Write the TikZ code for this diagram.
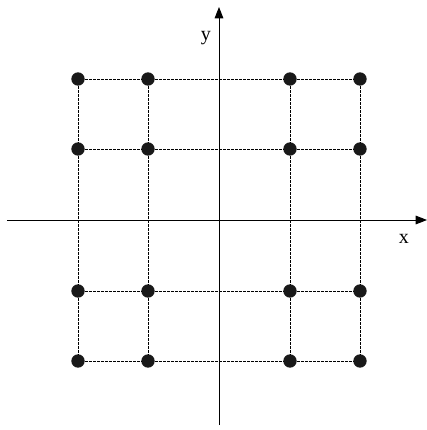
\documentclass[tikz,border=0pt]{standalone}
\usepackage{fontspec}
\setmainfont{Liberation Serif}
\usetikzlibrary{arrows.meta}

\begin{document}
\begin{tikzpicture}[x=0.75pt, y=0.75pt, >={Triangle[length=8.5pt,width=6.5pt]},
    font=\fontsize{15}{18}\selectfont,
    dot/.style={circle, fill=black!90, inner sep=0pt, minimum size=10pt},
    gridline/.style={dash pattern=on 2pt off 1pt, line width=0.5pt}]
  \useasboundingbox (-219,-210) rectangle (208,220);
  % axes
  \coordinate (xstart) at (-212,0);
  \coordinate (xend) at (208,0);
  \coordinate (ystart) at (0,-205);
  \coordinate (yend) at (0,213);
  \draw[->, line width=0.7pt] (xstart) -- (xend);
  \draw[->, line width=0.7pt] (ystart) -- (yend);
  \node (xlabel) at (185,-19) {x};
  \node (ylabel) at (-13,182) {y};
  % lattice points
  \foreach \i/\px in {1/-141,2/-71,3/71,4/141}
    \foreach \j/\py in {1/141,2/71,3/-71,4/-141}
      \node[dot] (p\i\j) at (\px,\py) {};
  % dashed grid
  \foreach \k in {1,...,4} {
    \draw[gridline] (p1\k) -- (p2\k) -- (p3\k) -- (p4\k);
    \draw[gridline] (p\k1) -- (p\k2) -- (p\k3) -- (p\k4);
  }
\end{tikzpicture}
\end{document}
